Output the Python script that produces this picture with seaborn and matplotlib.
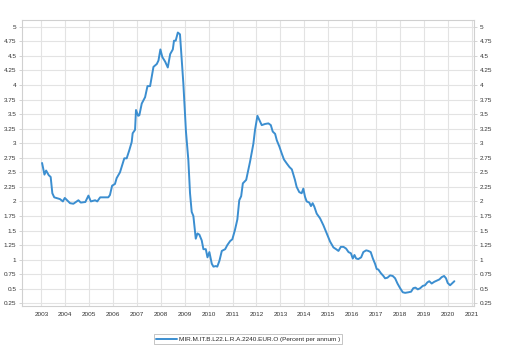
import matplotlib
matplotlib.use("Agg")
import matplotlib.pyplot as plt
import seaborn as sns
import pandas as pd
import numpy as np

# 연도(소수) , 금리 값 - 그림에서 읽은 값
years = [2003.03, 2003.13, 2003.20, 2003.31, 2003.39, 2003.46, 2003.54, 2003.78, 2003.90, 2003.98,
         2004.20, 2004.34, 2004.55, 2004.65, 2004.84, 2004.97, 2005.07, 2005.25, 2005.34, 2005.46,
         2005.80, 2005.87, 2005.96, 2006.08, 2006.15, 2006.29, 2006.47, 2006.57, 2006.68, 2006.78,
         2006.82, 2006.92, 2006.96, 2007.05, 2007.10, 2007.20, 2007.34, 2007.44, 2007.55, 2007.69,
         2007.83, 2007.90, 2007.98, 2008.06, 2008.18, 2008.29, 2008.39, 2008.50, 2008.55, 2008.62,
         2008.71, 2008.80, 2008.94, 2009.05, 2009.15, 2009.22, 2009.29, 2009.36, 2009.46, 2009.53,
         2009.61, 2009.71, 2009.78, 2009.88, 2009.95, 2010.03, 2010.13, 2010.20, 2010.30, 2010.36,
         2010.45, 2010.55, 2010.69, 2010.78, 2010.90, 2010.99, 2011.10, 2011.20, 2011.28, 2011.36,
         2011.43, 2011.57, 2011.66, 2011.73, 2011.87, 2011.94, 2012.04, 2012.15, 2012.22, 2012.36,
         2012.50, 2012.60, 2012.68, 2012.78, 2012.85, 2012.96, 2013.06, 2013.15, 2013.27, 2013.38,
         2013.48, 2013.61, 2013.68, 2013.79, 2013.89, 2013.96, 2014.03, 2014.10, 2014.21, 2014.28,
         2014.35, 2014.42, 2014.52, 2014.66, 2014.80, 2014.94, 2015.08, 2015.22, 2015.33, 2015.43,
         2015.53, 2015.64, 2015.75, 2015.85, 2015.95, 2016.03, 2016.10, 2016.17, 2016.26, 2016.38,
         2016.47, 2016.59, 2016.68, 2016.78, 2016.87, 2016.96, 2017.03, 2017.10, 2017.20, 2017.31,
         2017.38, 2017.48, 2017.59, 2017.70, 2017.80, 2017.90, 2018.01, 2018.12, 2018.22, 2018.36,
         2018.47, 2018.56, 2018.65, 2018.75, 2018.85, 2018.96, 2019.05, 2019.15, 2019.23, 2019.33,
         2019.44, 2019.54, 2019.65, 2019.75, 2019.85, 2019.93, 2020.00, 2020.10, 2020.18, 2020.28]
rates = [2.66, 2.46, 2.53, 2.45, 2.42, 2.14, 2.07, 2.04, 2.00, 2.06,
         1.97, 1.96, 2.02, 1.98, 1.99, 2.10, 2.00, 2.02, 2.00, 2.07,
         2.07, 2.11, 2.27, 2.30, 2.40, 2.50, 2.74, 2.74, 2.88, 3.02,
         3.17, 3.23, 3.57, 3.47, 3.48, 3.68, 3.79, 3.98, 3.98, 4.31,
         4.36, 4.42, 4.61, 4.48, 4.40, 4.30, 4.53, 4.61, 4.76, 4.76,
         4.90, 4.87, 4.03, 3.20, 2.71, 2.14, 1.82, 1.75, 1.36, 1.45,
         1.43, 1.33, 1.18, 1.18, 1.04, 1.13, 0.93, 0.88, 0.89, 0.88,
         0.98, 1.15, 1.18, 1.25, 1.32, 1.35, 1.51, 1.69, 2.02, 2.09,
         2.31, 2.37, 2.54, 2.68, 2.99, 3.23, 3.47, 3.37, 3.31, 3.33,
         3.34, 3.31, 3.20, 3.16, 3.05, 2.94, 2.82, 2.72, 2.65, 2.59,
         2.55, 2.37, 2.25, 2.16, 2.14, 2.22, 2.08, 2.00, 1.98, 1.92,
         1.97, 1.91, 1.79, 1.71, 1.59, 1.45, 1.31, 1.21, 1.18, 1.15,
         1.22, 1.22, 1.19, 1.13, 1.11, 1.02, 1.08, 1.02, 1.01, 1.04,
         1.13, 1.16, 1.15, 1.13, 1.02, 0.93, 0.84, 0.83, 0.77, 0.72,
         0.68, 0.69, 0.73, 0.72, 0.68, 0.59, 0.51, 0.44, 0.43, 0.44,
         0.45, 0.51, 0.52, 0.49, 0.51, 0.55, 0.56, 0.61, 0.63, 0.59,
         0.62, 0.64, 0.66, 0.70, 0.72, 0.68, 0.60, 0.56, 0.59, 0.63]

series_name = "MIR.M.IT.B.L22.L.R.A.2240.EUR.O (Percent per annum )"
x_ticks = list(range(2003, 2022))
y_ticks = [0.25, 0.5, 0.75, 1, 1.25, 1.5, 1.75, 2, 2.25, 2.5, 2.75, 3,
           3.25, 3.5, 3.75, 4, 4.25, 4.5, 4.75, 5]
y_labels = ["0.25", "0.5", "0.75", "1", "1.25", "1.5", "1.75", "2", "2.25", "2.5", "2.75", "3",
            "3.25", "3.5", "3.75", "4", "4.25", "4.5", "4.75", "5"]

df = pd.DataFrame({"year": years, "rate": rates, "series": series_name})

sns.set_style("whitegrid")
plt.rcParams["font.family"] = ["Liberation Sans", "DejaVu Sans"]

fig = plt.figure(figsize=(5.09, 3.55), dpi=100)
ax = fig.add_axes([0.0432, 0.138, 0.888, 0.8056])

sns.lineplot(data=df, x="year", y="rate", hue="series", palette=["#3b8ed0"],
             linewidth=1.4, ax=ax, legend=False)

ax.set_xlim(2002.19, 2021.1)
ax.set_ylim(0.204, 5.115)
ax.set_xticks(x_ticks)
ax.set_xticklabels([str(y) for y in x_ticks], fontsize=4.6, color="#333333")
ax.set_yticks(y_ticks)
ax.set_yticklabels(y_labels, fontsize=4.6, color="#333333")
ax.set_xlabel("")
ax.set_ylabel("")
ax.grid(True, color="#e3e3e3", linewidth=0.8)
ax.tick_params(axis="both", length=2, width=0.6, color="#cccccc", pad=2)
ax.tick_params(axis="y", which="both", right=True, labelright=True, left=True, labelleft=True)
for s in ax.spines.values():
    s.set_color("#d0d0d0")
    s.set_linewidth(0.8)

# 범례 - 차트 아래 가운데
from matplotlib.lines import Line2D
handle = Line2D([0], [0], color="#3b8ed0", linewidth=1.4)
leg = fig.legend([handle], [series_name], loc="center", bbox_to_anchor=(0.488, 0.045),
                 fontsize=4.6, frameon=True, fancybox=False, handlelength=3.2,
                 borderpad=0.3, handletextpad=0.4)
leg.get_frame().set_edgecolor("#aaaaaa")
leg.get_frame().set_linewidth(0.6)

fig.savefig("out.png", dpi=100)
